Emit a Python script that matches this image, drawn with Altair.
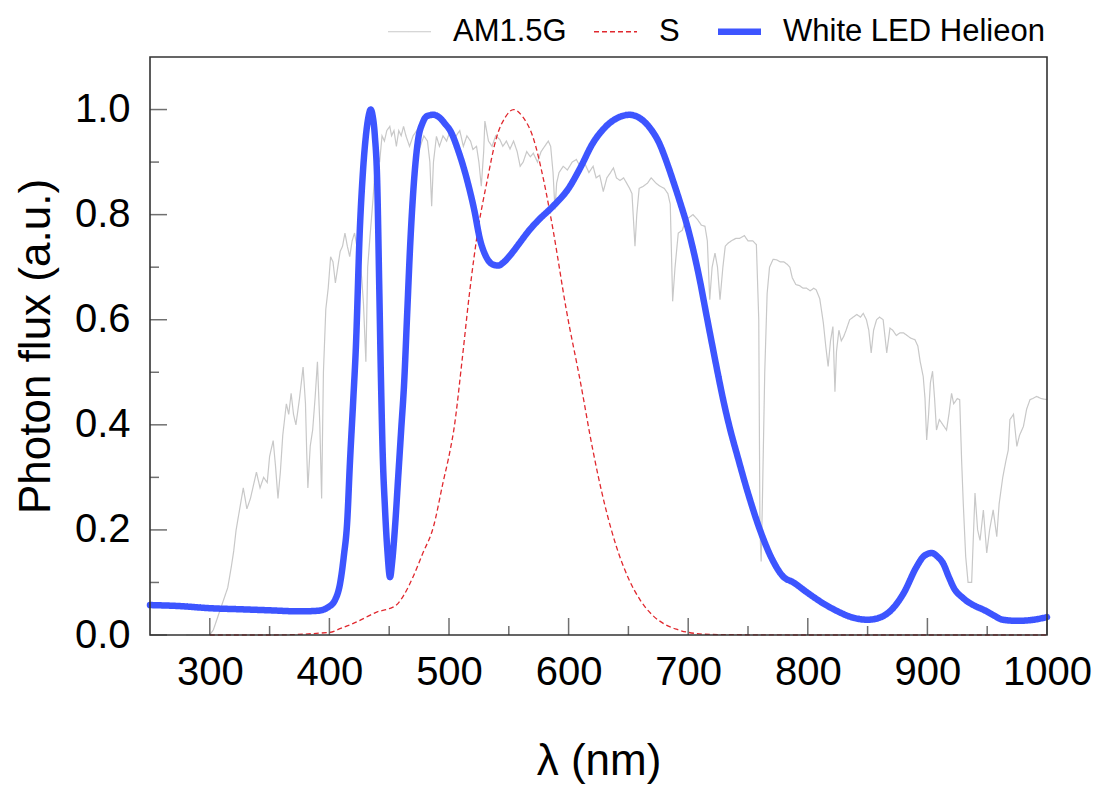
import altair as alt
import pandas as pd

# ---- data ----
am_wl = [280, 290, 300, 303, 306, 309, 312, 315, 318, 320, 322, 325, 328, 331, 334, 337, 339, 342, 345, 348,
         350, 353, 355, 357, 359, 361, 364, 366, 368, 370, 372, 375, 378, 380, 381, 382, 384, 386, 388, 390,
         392, 393.5, 395, 397, 399, 401, 403, 405, 407, 409, 411, 413, 415, 417, 419, 421, 423, 425, 427, 428.5,
         430.5, 432, 434, 436.5, 438, 440, 442, 444, 446, 448, 450.5, 452, 454, 456, 458, 460, 462, 464, 467, 470,
         473, 476, 479, 482, 484, 485.5, 487, 489.5, 492, 495, 498, 501, 504, 506, 509, 512, 515, 518, 520, 523,
         525, 527, 529, 530, 533, 536, 539, 542.5, 545, 548, 551, 554, 557, 559.5, 562, 565, 568, 570.5, 574, 577,
         580, 583, 585, 587, 588.6, 590, 592, 595.5, 599, 603, 606.5, 610, 613, 617, 620.5, 623, 626, 629, 632, 635,
         637.5, 640, 643, 646, 648.5, 651, 653, 655.5, 657, 659, 662.5, 666, 669, 673, 676.5, 680, 683, 685, 687, 689,
         691.7, 695, 698, 701, 704, 708, 711, 714, 716, 718, 720, 722.4, 724.5, 726.6, 729, 731, 733.5, 736, 740, 743,
         747, 750, 754, 757, 759, 760, 761, 762, 764, 766, 768, 771, 774, 777, 780, 783, 785, 787, 790, 793,
         796, 799, 802, 805, 807, 810, 813, 815, 817, 819, 821, 822.7, 824, 826, 828, 830, 832, 835, 838, 841,
         844, 846.4, 849, 851, 853, 855, 857.5, 860, 863, 866, 868.7, 871, 874, 877, 880, 883, 886, 889.6, 892, 894,
         896.5, 898, 899.4, 901, 902.5, 904.3, 906, 907.6, 910, 913, 916, 918, 920.2, 922, 925, 927, 928.6, 930, 932, 934,
         937, 939.8, 942, 944, 946.8, 949.6, 952, 955, 958, 960, 963, 965.5, 967.6, 969, 972, 974.8, 977, 980.3, 983, 985.8,
         988, 991.4, 995, 999.7]
am_val = [0, 0, 0, 0.01, 0.03, 0.05, 0.07, 0.09, 0.13, 0.16, 0.2, 0.24, 0.28, 0.24, 0.26, 0.29, 0.31, 0.28, 0.3, 0.29,
          0.34, 0.37, 0.32, 0.26, 0.31, 0.38, 0.44, 0.42, 0.46, 0.42, 0.4, 0.45, 0.51, 0.44, 0.35, 0.28, 0.36, 0.39, 0.45, 0.52,
          0.4, 0.26, 0.5, 0.62, 0.66, 0.72, 0.71, 0.67, 0.7, 0.73, 0.74, 0.765, 0.74, 0.72, 0.75, 0.765, 0.74, 0.72, 0.68, 0.63,
          0.52, 0.7, 0.76, 0.83, 0.88, 0.92, 0.9, 0.95, 0.94, 0.96, 0.968, 0.95, 0.96, 0.93, 0.96, 0.95, 0.968, 0.95, 0.93, 0.95,
          0.96, 0.93, 0.95, 0.94, 0.9, 0.816, 0.9, 0.949, 0.93, 0.95, 0.94, 0.96, 0.94, 0.95, 0.96, 0.93, 0.95, 0.94, 0.924, 0.93,
          0.9, 0.854, 0.92, 0.978, 0.94, 0.93, 0.95, 0.943, 0.93, 0.94, 0.925, 0.94, 0.92, 0.892, 0.9, 0.92, 0.91, 0.917, 0.9, 0.92,
          0.93, 0.94, 0.93, 0.88, 0.81, 0.86, 0.88, 0.892, 0.885, 0.9, 0.905, 0.89, 0.9, 0.88, 0.892, 0.87, 0.875, 0.844, 0.87, 0.88,
          0.889, 0.87, 0.865, 0.87, 0.86, 0.85, 0.84, 0.74, 0.8, 0.85, 0.854, 0.86, 0.87, 0.86, 0.854, 0.85, 0.84, 0.82, 0.635, 0.7,
          0.765, 0.77, 0.79, 0.795, 0.8, 0.79, 0.78, 0.778, 0.75, 0.638, 0.7, 0.727, 0.7, 0.638, 0.7, 0.74, 0.746, 0.75, 0.755, 0.755,
          0.76, 0.75, 0.75, 0.743, 0.6, 0.2, 0.14, 0.25, 0.5, 0.65, 0.7, 0.715, 0.714, 0.71, 0.71, 0.705, 0.7, 0.68, 0.667, 0.665,
          0.66, 0.66, 0.655, 0.66, 0.657, 0.64, 0.594, 0.55, 0.511, 0.56, 0.587, 0.463, 0.54, 0.58, 0.56, 0.568, 0.58, 0.6, 0.605, 0.61,
          0.605, 0.612, 0.6, 0.58, 0.537, 0.58, 0.6, 0.605, 0.6, 0.537, 0.584, 0.58, 0.57, 0.575, 0.575, 0.57, 0.565, 0.562, 0.55, 0.52,
          0.492, 0.45, 0.371, 0.42, 0.48, 0.502, 0.45, 0.39, 0.41, 0.4, 0.39, 0.42, 0.46, 0.44, 0.45, 0.448, 0.333, 0.25, 0.15, 0.1,
          0.1, 0.27, 0.2, 0.18, 0.238, 0.156, 0.2, 0.238, 0.187, 0.25, 0.3, 0.33, 0.352, 0.41, 0.42, 0.359, 0.38, 0.397, 0.43, 0.448,
          0.45, 0.454, 0.45, 0.448]

s_wl = [300, 350, 400, 410, 420, 430, 440, 450, 456, 462, 470, 478, 487, 495, 501, 504, 511, 517, 524.5, 531.5,
        540, 547, 554, 562, 570, 579, 587, 598, 610, 620, 630, 640, 650, 660, 670, 680, 690, 700, 720, 800, 900, 1000]
s_val = [0, 0, 0.005, 0.013, 0.022, 0.033, 0.044, 0.05, 0.057, 0.075, 0.111, 0.155, 0.206, 0.29, 0.352, 0.39, 0.524, 0.648, 0.775, 0.86,
         0.949, 0.985, 1.0, 0.985, 0.949, 0.867, 0.771, 0.62, 0.48, 0.355, 0.25, 0.168, 0.108, 0.066, 0.038, 0.021, 0.011, 0.005, 0.001, 0, 0, 0]

led_wl = [250, 275, 300, 325, 350, 375, 390, 399, 405, 409, 412, 415, 417, 420, 422, 425.6, 428, 431, 433, 434.5,
          436, 438, 440, 441.7, 443, 444.5, 446.5, 448.5, 450.7, 452.5, 455, 457.5, 460, 462.5, 465, 467.5, 470, 474, 478,
          482, 487, 492, 497, 501, 508, 515, 521, 526, 531, 536, 541, 546, 552, 559, 567, 575, 587, 600, 610,
          620, 630, 640, 651, 660, 668, 676, 682, 688, 693, 699, 704, 710, 715, 720, 725, 730, 735, 741, 750, 760,
          770, 779.5, 788, 800, 813, 825, 835, 850, 860, 870, 880, 891, 897, 903.5, 909, 913, 918, 922, 930, 940,
          947, 955, 963, 975, 985, 1000]
led_val = [0.057, 0.055, 0.051, 0.049, 0.047, 0.045, 0.046, 0.053, 0.068, 0.099, 0.149, 0.22, 0.32, 0.45, 0.54, 0.78, 0.88, 0.96, 0.99, 1.0,
           0.99, 0.95, 0.86, 0.66, 0.5, 0.35, 0.24, 0.16, 0.11, 0.14, 0.21, 0.30, 0.39, 0.48, 0.61, 0.74, 0.84, 0.94, 0.975,
           0.988, 0.99, 0.985, 0.972, 0.96, 0.92, 0.867, 0.81, 0.752, 0.72, 0.706, 0.703, 0.71, 0.725, 0.746, 0.77, 0.79, 0.816, 0.85, 0.89,
           0.935, 0.965, 0.983, 0.99, 0.983, 0.965, 0.935, 0.9, 0.86, 0.825, 0.78, 0.735, 0.672, 0.612, 0.553, 0.495, 0.44, 0.392, 0.342, 0.27, 0.2,
           0.145, 0.111, 0.1, 0.08, 0.06, 0.045, 0.035, 0.029, 0.033, 0.048, 0.079, 0.13, 0.15, 0.156, 0.148, 0.137, 0.11, 0.09, 0.07, 0.055,
           0.048, 0.038, 0.029, 0.027, 0.028, 0.034]

series_names = ["AM1.5G", "S", "White LED Helieon"]
series_colors = ["#C8C8C8", "#E0282E", "#3D55FF"]
series_dash = [[1, 0], [5, 3], [1, 0]]
series_width = [1.2, 1.3, 6.5]

x_major = [300, 400, 500, 600, 700, 800, 900, 1000]
x_minor = [350, 450, 550, 650, 750, 850, 950]
y_major = [0.0, 0.2, 0.4, 0.6, 0.8, 1.0]
y_minor = [0.1, 0.3, 0.5, 0.7, 0.9]
x_range = [250, 1000]
y_range = [0, 1.1]

df = pd.concat([
    pd.DataFrame({"wl": am_wl, "val": am_val, "series": series_names[0]}),
    pd.DataFrame({"wl": s_wl, "val": s_val, "series": series_names[1]}),
    pd.DataFrame({"wl": led_wl, "val": led_val, "series": series_names[2]}),
], ignore_index=True)

FONT = "Liberation Sans"
x_scale = alt.Scale(domain=x_range, nice=False, zero=False)
y_scale = alt.Scale(domain=y_range, nice=False, zero=False)

width_expr = ("datum.value === '%s' ? %s : (datum.value === '%s' ? %s : %s)"
              % (series_names[2], series_width[2], series_names[1], series_width[1], series_width[0]))

legend = alt.Legend(orient="none", legendX=244, legendY=-41, direction="horizontal",
                    symbolType="stroke", symbolSize=1850, labelFontSize=31, labelFont=FONT,
                    labelColor="black", labelOffset=28, columnPadding=24, padding=0,
                    labelLimit=400, symbolStrokeWidth={"expr": width_expr})

enc = dict(
    x=alt.X("wl:Q", scale=x_scale,
            axis=alt.Axis(values=x_major, format="d", title="λ (nm)", ticks=False, domain=False, grid=False,
                          labelFontSize=40, labelPadding=17, titleFontSize=44, titlePadding=47,
                          labelFont=FONT, titleFont=FONT, titleFontWeight="normal",
                          labelColor="black", titleColor="black", labelFlush=False)),
    y=alt.Y("val:Q", scale=y_scale,
            axis=alt.Axis(values=y_major, format=".1f", title="Photon flux (a.u.)", ticks=False,
                          domain=False, grid=False, labelFontSize=40, labelPadding=20,
                          titleFontSize=44, titlePadding=16, labelFont=FONT, titleFont=FONT,
                          titleFontWeight="normal", labelColor="black", titleColor="black")),
    color=alt.Color("series:N", title=None,
                    scale=alt.Scale(domain=series_names, range=series_colors), legend=legend),
    strokeDash=alt.StrokeDash("series:N", title=None,
                              scale=alt.Scale(domain=series_names, range=series_dash), legend=legend),
)

base = alt.Chart(df)
gray = base.mark_line(interpolate="linear", strokeWidth=series_width[0]).encode(**enc).transform_filter(
    alt.datum.series == series_names[0])
red = base.mark_line(interpolate="monotone", strokeWidth=series_width[1]).encode(**enc).transform_filter(
    alt.datum.series == series_names[1])
blue = base.mark_line(interpolate="monotone", strokeWidth=series_width[2], strokeCap="round").encode(
    **enc).transform_filter(alt.datum.series == series_names[2])

tick_color = "#333333"
xmaj = alt.Chart(pd.DataFrame({"v": x_major})).mark_tick(
    orient="vertical", size=17, thickness=1.5, yOffset=-8.5, color=tick_color).encode(
    x=alt.X("v:Q", scale=x_scale), y=alt.datum(0))
xmin = alt.Chart(pd.DataFrame({"v": x_minor})).mark_tick(
    orient="vertical", size=9, thickness=1.5, yOffset=-4.5, color=tick_color).encode(
    x=alt.X("v:Q", scale=x_scale), y=alt.datum(0))
ymaj = alt.Chart(pd.DataFrame({"v": y_major})).mark_tick(
    orient="horizontal", size=17, thickness=1.5, xOffset=8.5, color=tick_color).encode(
    y=alt.Y("v:Q", scale=y_scale), x=alt.datum(x_range[0]))
ymin = alt.Chart(pd.DataFrame({"v": y_minor})).mark_tick(
    orient="horizontal", size=9, thickness=1.5, xOffset=4.5, color=tick_color).encode(
    y=alt.Y("v:Q", scale=y_scale), x=alt.datum(x_range[0]))

frame = alt.Chart(pd.DataFrame({"a": [0]})).mark_rect(
    filled=False, stroke=tick_color, strokeWidth=1.6).encode(
    x=alt.datum(x_range[0]), x2=alt.datum(x_range[1]),
    y=alt.datum(y_range[0]), y2=alt.datum(y_range[1]))

chart = alt.layer(gray, red, blue, xmaj, xmin, ymaj, ymin, frame).properties(
    width=897, height=578,
    background="white",
    autosize=alt.AutoSizeParams(type="none"),
    padding={"left": 150, "top": 57, "right": 55, "bottom": 152},
).configure_view(strokeWidth=0)

chart.save("out.html", embed_options={"renderer": "svg", "actions": False})
